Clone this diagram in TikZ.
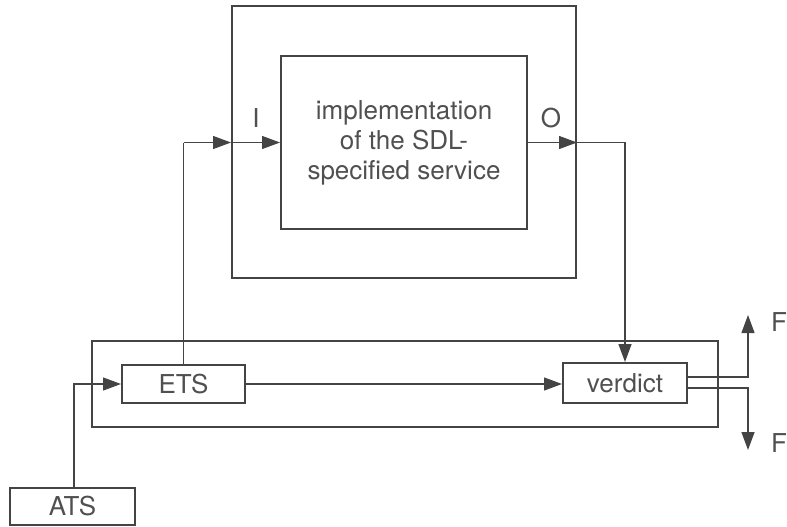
\documentclass[tikz,border=0pt]{standalone}
\usepackage{fontspec}
\setmainfont{TeX Gyre Heros}
\usetikzlibrary{arrows.meta}
\definecolor{ink}{HTML}{444444}
\definecolor{txt}{HTML}{505050}
\begin{document}
\begin{tikzpicture}[x=1pt,y=-1pt,
  box/.style={draw=ink,line width=2pt,inner sep=0pt,font=\fontsize{26}{30}\selectfont,text=txt},
  conn/.style={draw=ink,line width=1.3pt},
  tip/.style={-{Triangle[length=18pt,width=13pt]}},
  lbl/.style={font=\fontsize{26}{30}\selectfont,text=txt,inner sep=0pt}]
\useasboundingbox (0,0) rectangle (787,527);
\node[box,minimum width=344pt,minimum height=272pt] (outer) at (404,142) {};
\node[box,minimum width=246pt,minimum height=173pt,align=center] (inner) at (404,142.5) {implementation\\of the SDL-\\specified service};
\node[box,minimum width=626pt,minimum height=86pt] (bottom) at (405,384) {};
\node[box,minimum width=123pt,minimum height=38pt] (ets) at (183.5,384) {ETS};
\node[box,minimum width=124pt,minimum height=40pt] (verdict) at (625,383) {verdict};
\node[box,minimum width=125pt,minimum height=37pt] (ats) at (72.5,506.5) {ATS};
\node[lbl] (ilbl) at (256,118) {I};
\node[lbl] (olbl) at (551,118) {O};
\node[lbl,anchor=west] (f1) at (771,322) {F};
\node[lbl,anchor=west] (f2) at (771,443) {F};
\coordinate (c1) at (183.5,142.5);
\coordinate (c2) at (625,142.5);
\coordinate (c3) at (74,384);
\coordinate (u1) at (748,377);
\coordinate (u2) at (748,315);
\coordinate (d1) at (748,388);
\coordinate (d2) at (748,450);
\coordinate (vo1) at (687,377);
\coordinate (vo2) at (687,388);
\draw[conn] (ets.north) -- (c1);
\draw[conn,tip] (c1) -- (outer.west |- c1);
\draw[conn,tip] (outer.west |- c1) -- (inner.west |- c1);
\draw[conn,tip] (inner.east |- c2) -- (outer.east |- c2);
\draw[conn,tip] (outer.east |- c2) -- (c2) -- (verdict.north);
\draw[conn,tip] (ets.east) -- (verdict.west |- ets.east);
\draw[conn,tip] (ats.north -| c3) -- (c3) -- (ets.west);
\draw[conn,tip] (vo1) -- (u1) -- (u2);
\draw[conn,tip] (vo2) -- (d1) -- (d2);
\end{tikzpicture}
\end{document}
